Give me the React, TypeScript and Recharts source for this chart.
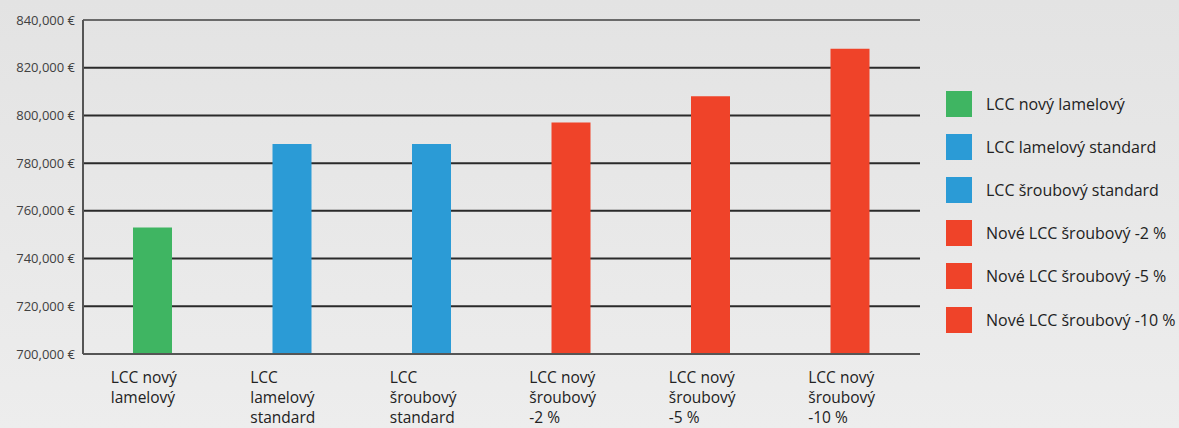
import React from 'react';
import {
  BarChart,
  Bar,
  XAxis,
  YAxis,
  CartesianGrid,
  ReferenceLine,
  Cell,
} from 'recharts';

// Category labels, split into the lines shown under each bar
const categoryLines: string[][] = [
  ['LCC nový', 'lamelový'],
  ['LCC', 'lamelový', 'standard'],
  ['LCC', 'šroubový', 'standard'],
  ['LCC nový', 'šroubový', '-2 %'],
  ['LCC nový', 'šroubový', '-5 %'],
  ['LCC nový', 'šroubový', '-10 %'],
];

const legendNames = [
  'LCC nový lamelový',
  'LCC lamelový standard',
  'LCC šroubový standard',
  'Nové LCC šroubový -2 %',
  'Nové LCC šroubový -5 %',
  'Nové LCC šroubový -10 %',
];

// life-cycle cost, EUR
const lccValues = [753000, 788000, 788000, 797000, 808000, 828000];

const barColors = ['#3fb562', '#2b9bd6', '#2b9bd6', '#ef4329', '#ef4329', '#ef4329'];

const yTicks = [700000, 720000, 740000, 760000, 780000, 800000, 820000, 840000];

const data = lccValues.map((value, i) => ({
  key: `c${i}`,
  value,
}));

const FONT = '"Open Sans", "Noto Sans", sans-serif';

const fmtEuro = (v: number) => `${v.toLocaleString('en-US')} €`;

const CategoryTick = (props: any) => {
  const { x, y, payload } = props;
  const lines = categoryLines[payload.index] ?? [];
  return (
    <g transform={`translate(${x - 42},${y})`}>
      <text fontFamily={FONT} fontSize={15.5} fill="#222">
        {lines.map((line, i) => (
          <tspan key={i} x={0} y={21 + i * 20}>
            {line}
          </tspan>
        ))}
      </text>
    </g>
  );
};

const LegendBox = () => (
  <div
    style={{
      position: 'absolute',
      left: 946,
      top: 82,
      fontFamily: FONT,
      fontSize: 16,
      color: '#222',
      whiteSpace: 'nowrap',
    }}
  >
    {legendNames.map((name, i) => (
      <div
        key={name}
        style={{ display: 'flex', alignItems: 'center', height: 43.2 }}
      >
        <span
          style={{
            width: 26,
            height: 26,
            background: barColors[i],
            marginRight: 14,
            display: 'inline-block',
          }}
        />
        <span>{name}</span>
      </div>
    ))}
  </div>
);

export default function App() {
  return (
    <div
      style={{
        position: 'fixed',
        left: 0,
        top: 0,
        width: 1179,
        height: 428,
        overflow: 'hidden',
        background: 'linear-gradient(#e3e3e3, #ededed)',
      }}
    >
      <BarChart
        width={1179}
        height={428}
        data={data}
        margin={{ top: 20, right: 259, bottom: 0, left: 0 }}
      >
        <CartesianGrid
          vertical={false}
          stroke="#2a2a2a"
          strokeWidth={2}
          horizontalValues={[720000, 740000, 760000, 780000, 800000, 820000]}
        />
        <ReferenceLine y={840000} stroke="#6a6a6a" strokeWidth={2} />
        <XAxis
          dataKey="key"
          height={74}
          axisLine={{ stroke: '#555', strokeWidth: 2 }}
          tickLine={false}
          interval={0}
          tick={<CategoryTick />}
        />
        <YAxis
          width={83}
          domain={[700000, 840000]}
          ticks={yTicks}
          tickFormatter={fmtEuro}
          axisLine={{ stroke: '#555', strokeWidth: 2 }}
          tickLine={false}
          tick={{ fontFamily: FONT, fontSize: 13, fill: '#404040' }}
        />
        <Bar dataKey="value" barSize={39} isAnimationActive={false}>
          {data.map((d, i) => (
            <Cell key={d.key} fill={barColors[i]} />
          ))}
        </Bar>
      </BarChart>
      <LegendBox />
    </div>
  );
}
